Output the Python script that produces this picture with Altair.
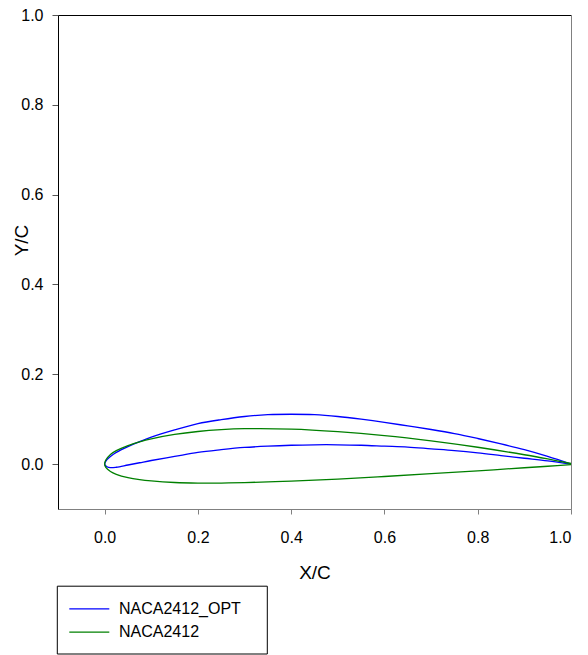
import altair as alt
import pandas as pd

series_names = ["NACA2412_OPT", "NACA2412"]
series_colors = ["#0000ff", "#008000"]

# NACA2412_OPT
opt_upper_x = [0.0, 0.005, 0.0125, 0.025, 0.05, 0.075, 0.1, 0.15, 0.2, 0.25, 0.3, 0.35, 0.4, 0.45, 0.5, 0.55, 0.6, 0.65, 0.7, 0.75, 0.8, 0.85, 0.9, 0.95, 1.0]
opt_upper_y = [0.0, 0.010, 0.017, 0.026, 0.039, 0.050, 0.060, 0.076, 0.090, 0.099, 0.106, 0.110, 0.111, 0.110, 0.106, 0.100, 0.093, 0.085, 0.077, 0.068, 0.057, 0.045, 0.032, 0.017, 0.0]
opt_lower_x = [0.0, 0.005, 0.0125, 0.025, 0.05, 0.075, 0.1, 0.15, 0.2, 0.25, 0.3, 0.35, 0.4, 0.45, 0.5, 0.55, 0.6, 0.65, 0.7, 0.75, 0.8, 0.85, 0.9, 0.95, 1.0]
opt_lower_y = [0.0, -0.006, -0.008, -0.007, -0.002, 0.003, 0.008, 0.017, 0.026, 0.032, 0.037, 0.040, 0.042, 0.043, 0.043, 0.042, 0.040, 0.038, 0.034, 0.030, 0.025, 0.019, 0.013, 0.007, 0.0]

# NACA2412
base_upper_x = [0.0, 0.0025, 0.0125, 0.025, 0.05, 0.075, 0.1, 0.15, 0.2, 0.25, 0.3, 0.4, 0.5, 0.6, 0.7, 0.8, 0.9, 0.95, 1.0]
base_upper_y = [0.0, 0.009, 0.0215, 0.0299, 0.0413, 0.0496, 0.0563, 0.0661, 0.0726, 0.0767, 0.0788, 0.0780, 0.0724, 0.0636, 0.0518, 0.0375, 0.0208, 0.0114, 0.0013]
base_lower_x = [0.0, 0.0025, 0.0125, 0.025, 0.05, 0.075, 0.1, 0.15, 0.2, 0.25, 0.3, 0.4, 0.5, 0.6, 0.7, 0.8, 0.9, 0.95, 1.0]
base_lower_y = [0.0, -0.0075, -0.0165, -0.0227, -0.0301, -0.0346, -0.0375, -0.0410, -0.0423, -0.0422, -0.0412, -0.0380, -0.0334, -0.0276, -0.0214, -0.0150, -0.0082, -0.0048, -0.0013]

x_ticks = [0.0, 0.2, 0.4, 0.6, 0.8, 1.0]
y_ticks = [0.0, 0.2, 0.4, 0.6, 0.8, 1.0]


def contour(name, ux, uy, lx, ly):
    rows = []
    pts = list(zip(ux, uy))[::-1] + list(zip(lx, ly))[1:]
    for i, (x, y) in enumerate(pts):
        rows.append({"series": name, "x": x, "y": y, "order": i})
    return rows


rows = contour(series_names[0], opt_upper_x, opt_upper_y, opt_lower_x, opt_lower_y)
rows += contour(series_names[1], base_upper_x, base_upper_y, base_lower_x, base_lower_y)
df = pd.DataFrame(rows)
legend_df = pd.DataFrame({"series": series_names, "idx": list(range(len(series_names)))})

xscale = alt.Scale(domain=[-0.1, 1.0], nice=False, zero=False)
yscale = alt.Scale(domain=[-0.1, 1.0], nice=False, zero=False)
cscale = alt.Scale(domain=series_names, range=series_colors)

base = alt.Chart(df)

lines = base.mark_line(strokeWidth=1.3, interpolate="catmull-rom").encode(
    x=alt.X("x:Q", scale=xscale,
            axis=alt.Axis(values=x_ticks, format=".1f", title="X/C", grid=False,
                          domainColor="#808080", tickColor="#808080", tickSize=5,
                          labelPadding=15, labelFontSize=16, labelColor="black",
                          titleFontSize=19, titleFontWeight="normal", titleColor="black",
                          titleY=63, titleBaseline="middle")),
    y=alt.Y("y:Q", scale=yscale,
            axis=alt.Axis(values=y_ticks, format=".1f", title="Y/C", grid=False,
                          domainColor="black", tickColor="#555555", tickSize=6,
                          labelPadding=9, labelFontSize=16, labelColor="black",
                          titleFontSize=19, titleFontWeight="normal", titleColor="black",
                          titleX=-37, titleY=225, titleAlign="center", titleBaseline="middle")),
    color=alt.Color("series:N", scale=cscale, legend=None),
    order="order:Q",
)

frame = base.mark_point(opacity=0).encode(
    x=alt.X("x:Q", scale=xscale,
            axis=alt.Axis(orient="top", labels=False, ticks=False, grid=False,
                          domainColor="black", title=None)),
    y=alt.Y("y:Q", scale=yscale,
            axis=alt.Axis(orient="right", labels=False, ticks=False, grid=False,
                          domainColor="#808080", title=None)),
)

# legend drawn below the plot
legend_box = alt.Chart(pd.DataFrame({"k": [0]})).mark_rect(
    fill="white", stroke="black", strokeWidth=1
).encode(x=alt.value(-0.7), x2=alt.value(209.3), y=alt.value(571.2), y2=alt.value(639))

ly = alt.Y("idx:Q", scale=alt.Scale(domain=[0, 1], range=[593.8, 617.2]), axis=None)

legend_lines = alt.Chart(legend_df).mark_rule(strokeWidth=1.3).encode(
    x=alt.value(11.3), x2=alt.value(51.3), y=ly,
    color=alt.Color("series:N", scale=cscale, legend=None),
)

legend_text = alt.Chart(legend_df).mark_text(
    align="left", baseline="middle", fontSize=16, color="black"
).encode(x=alt.value(61), y=ly, text="series:N")

chart = alt.layer(frame, lines, legend_box, legend_lines, legend_text).resolve_axis(
    x="independent", y="independent"
).resolve_scale(y="independent").properties(
    width=513, height=494, autosize="none",
    padding={"left": 50, "top": 7, "right": 9, "bottom": 150},
).configure_view(stroke=None).configure(font="Liberation Sans")

chart.save("out.html", embed_options={"renderer": "svg", "actions": False})
